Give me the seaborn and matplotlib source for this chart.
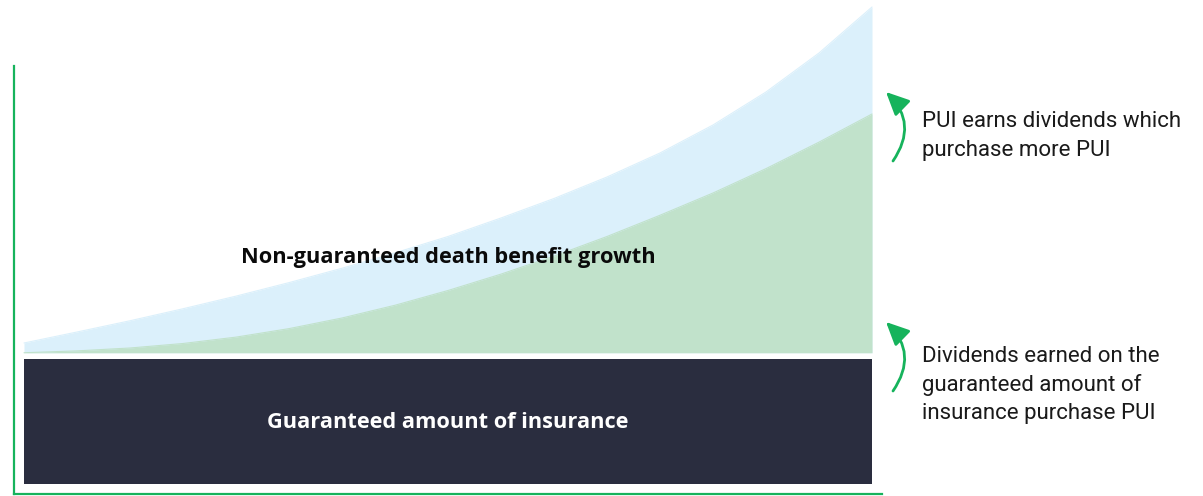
import numpy as np
import pandas as pd
import matplotlib
matplotlib.use("Agg")
import matplotlib.pyplot as plt
from matplotlib.patches import FancyArrowPatch
import seaborn as sns

# ---- data (arbitrary units; guaranteed amount = 100) ----
years = [0, 2.5, 5, 7.5, 10, 12.5, 15, 17.5, 20, 22.5, 25, 27.5, 30, 32.5, 35, 37.5, 40]
guaranteed = 100
gap = 5
dividend_growth = [0, 1.5, 3.8, 7.4, 12.5, 19.3, 27.8, 38.0, 49.8, 62.9, 77.3,
                   93.0, 110.0, 127.8, 147.3, 168.5, 191.0]
pui_growth = [7.8, 16.6, 25.6, 35.2, 45.3, 56.1, 67.6, 79.9, 93.0, 107.8, 123.4,
              140.6, 159.8, 182.2, 208.6, 239.8, 276.6]

label_ng = "Non-guaranteed death benefit growth"
label_g = "Guaranteed amount of insurance"
note_top = ["PUI earns dividends which", "purchase more PUI"]
note_bottom = ["Dividends earned on the", "guaranteed amount of", "insurance purchase PUI"]

sns.set_theme(style="white")
plt.rcParams["font.family"] = ["Roboto", "DejaVu Sans"]

W, H = 1203, 496
fig = plt.figure(figsize=(W / 100, H / 100), dpi=100)
fig.patch.set_facecolor("white")

# axes: left spine at px 14, bottom at px 494, right px 882, top px 0
ax = fig.add_axes([14 / W, 2 / H, 868 / W, 494 / H])
ax.set_facecolor("none")
ax.set_xlim(-10 / 21.2, 40 + 10 / 21.2)
ax.set_ylim(-8, 484 / 1.25)

df = pd.DataFrame({"year": years, "div": dividend_growth, "pui": pui_growth})
base = guaranteed + gap
df["div_top"] = base + df["div"]
df["pui_top"] = base + df["pui"]

navy = "#2a2d3f"
green_fill = "#c1e2cb"
blue_fill = "#dbf0fb"
green_line = "#16b35c"

# guaranteed block
ax.bar([20], [guaranteed], width=40, bottom=0, color=navy, linewidth=0, align="center")
# non-guaranteed growth areas
ax.fill_between(df["year"], base, df["pui_top"], color=blue_fill, linewidth=0, clip_on=False)
ax.fill_between(df["year"], base, df["div_top"], color=green_fill, linewidth=0, clip_on=False)
sns.lineplot(data=df, x="year", y="pui_top", ax=ax, color=blue_fill, linewidth=0.8)
sns.lineplot(data=df, x="year", y="div_top", ax=ax, color=green_fill, linewidth=0.8)

# spines
for s in ["top", "right"]:
    ax.spines[s].set_visible(False)
for s in ["left", "bottom"]:
    ax.spines[s].set_visible(True)
    ax.spines[s].set_color(green_line)
    ax.spines[s].set_linewidth(1.6)
ax.spines["left"].set_bounds(-8, (484 - 66) / 1.25)
ax.set_xticks([])
ax.set_yticks([])
ax.set_xlabel("")
ax.set_ylabel("")

# labels
ax.text(20, (484 - 263) / 1.25, label_ng, ha="center", va="baseline",
        fontsize=15.7, fontweight="bold", color="#0a0a0a", family=["Open Sans", "DejaVu Sans"])
ax.text(20, (484 - 428) / 1.25, label_g, ha="center", va="baseline",
        fontsize=15.7, fontweight="bold", color="white", family=["Open Sans", "DejaVu Sans"])

# arrows
def px2data(px, py):
    return ((px - 24) / 21.2, (484 - py) / 1.25)

for (x0, y0, x1, y1) in [(893, 161, 886, 92), (893, 391, 886, 322)]:
    a = FancyArrowPatch(px2data(x0, y0), px2data(x1, y1),
                        connectionstyle="arc3,rad=0.42",
                        arrowstyle="-|>,head_length=0.7,head_width=0.33",
                        mutation_scale=20, color=green_line, linewidth=2.0,
                        shrinkA=0, shrinkB=0, clip_on=False)
    ax.add_patch(a)

for i, line in enumerate(note_top):
    fig.text(922 / W, 1 - (127 + 29 * i) / H, line, ha="left", va="baseline",
             fontsize=16, color="#1a1a1a")
for i, line in enumerate(note_bottom):
    fig.text(922 / W, 1 - (362 + 28.5 * i) / H, line, ha="left", va="baseline",
             fontsize=16, color="#1a1a1a")

fig.savefig("out.png", dpi=100, facecolor="white")
